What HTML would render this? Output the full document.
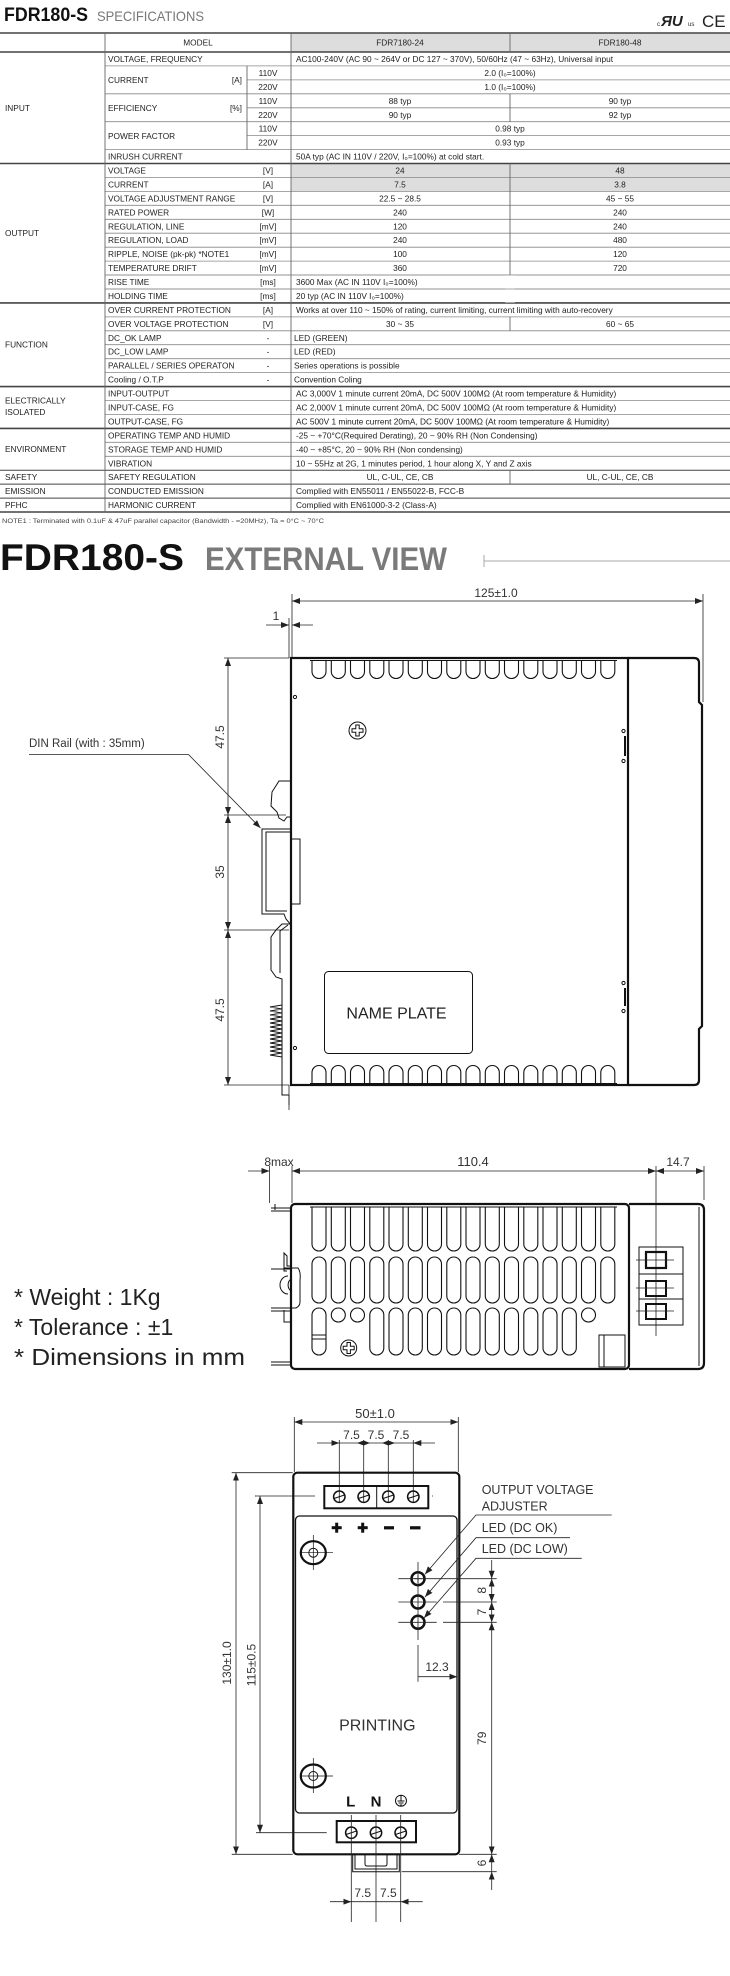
<!DOCTYPE html>
<html><head><meta charset="utf-8"><style>
html,body{margin:0;padding:0;background:#fff;}
svg{display:block;}
text{font-family:"Liberation Sans",sans-serif;}
.t{font-size:8.3px;fill:#222;}
.n{font-family:"Liberation Sans Narrow","Liberation Sans",sans-serif;}
.d{stroke:#222;stroke-width:0.8;fill:none;}
.k{stroke:#111;stroke-width:2.2;fill:none;}
.m{stroke:#111;stroke-width:1;fill:none;}
.lb{font-size:12px;fill:#333;}
</style></head><body>
<svg width="730" height="1976" viewBox="0 0 730 1976" xmlns="http://www.w3.org/2000/svg">
<defs>
<marker id="a" markerWidth="8" markerHeight="6" refX="8" refY="3" orient="auto-start-reverse" markerUnits="userSpaceOnUse"><path d="M0,0 L8,3 L0,6 z" fill="#222"/></marker>
<path id="st" d="M0,0 V11 A7,7 0 0 0 14,11 V0" stroke="#111" stroke-width="1.1" fill="none"/>
<path id="sb" d="M0,0 V-11 A7,7 0 0 1 14,-11 V0" stroke="#111" stroke-width="1.1" fill="none"/>
<path id="s1" d="M0,0 V37 A7,7 0 0 0 14,37 V0" stroke="#111" stroke-width="1.1" fill="none"/>
<rect id="s2" width="14" height="46" rx="7" stroke="#111" stroke-width="1.1" fill="none"/>
<rect id="s3" width="14" height="47" rx="7" stroke="#111" stroke-width="1.1" fill="none"/>
<circle id="sc" cx="7" cy="7" r="7" stroke="#111" stroke-width="1.1" fill="none"/>
</defs>

<!-- TITLE -->
<text x="4" y="21" class="n" font-size="19" font-weight="bold" fill="#111" textLength="84" lengthAdjust="spacingAndGlyphs">FDR180-S</text>
<text x="97" y="21" class="n" font-size="14" fill="#777" textLength="107" lengthAdjust="spacingAndGlyphs">SPECIFICATIONS</text>
<text x="657" y="26" font-size="6" fill="#222">c</text>
<text x="661" y="26" font-size="15" font-weight="bold" font-style="italic" fill="#222">ЯU</text>
<text x="688" y="26" font-size="6" fill="#222">us</text>
<text x="702" y="27" font-size="17" fill="#222">CE</text>

<!-- TABLE backgrounds -->
<rect x="291" y="33" width="439" height="19" fill="#ddd"/>
<rect x="291" y="163.5" width="439" height="27.9" fill="#ddd"/>

<!-- thin row lines -->
<g stroke="#888" stroke-width="0.8">
<line x1="247" y1="79.9" x2="730" y2="79.9"/>
<line x1="105" y1="93.8" x2="730" y2="93.8"/>
<line x1="247" y1="107.8" x2="730" y2="107.8"/>
<line x1="105" y1="121.7" x2="730" y2="121.7"/>
<line x1="247" y1="135.6" x2="730" y2="135.6"/>
<line x1="105" y1="149.6" x2="730" y2="149.6"/>
<line x1="105" y1="65.9" x2="730" y2="65.9"/>
<line x1="105" y1="177.5" x2="730" y2="177.5"/>
<line x1="105" y1="191.4" x2="730" y2="191.4"/>
<line x1="105" y1="205.3" x2="730" y2="205.3"/>
<line x1="105" y1="219.3" x2="730" y2="219.3"/>
<line x1="105" y1="233.2" x2="730" y2="233.2"/>
<line x1="105" y1="247.2" x2="730" y2="247.2"/>
<line x1="105" y1="261.1" x2="730" y2="261.1"/>
<line x1="105" y1="275.0" x2="730" y2="275.0"/>
<line x1="105" y1="289.0" x2="730" y2="289.0"/>
<line x1="105" y1="316.9" x2="730" y2="316.9"/>
<line x1="105" y1="330.8" x2="730" y2="330.8"/>
<line x1="105" y1="344.7" x2="730" y2="344.7"/>
<line x1="105" y1="358.7" x2="730" y2="358.7"/>
<line x1="105" y1="372.6" x2="730" y2="372.6"/>
<line x1="105" y1="400.5" x2="730" y2="400.5"/>
<line x1="105" y1="414.4" x2="730" y2="414.4"/>
<line x1="105" y1="442.3" x2="730" y2="442.3"/>
<line x1="105" y1="456.3" x2="730" y2="456.3"/>
</g>
<!-- group lines -->
<g stroke="#444" stroke-width="1.6">
<line x1="0" y1="33" x2="730" y2="33"/>
<line x1="0" y1="52" x2="730" y2="52"/>
<line x1="0" y1="163.5" x2="730" y2="163.5"/>
<line x1="0" y1="302.9" x2="730" y2="302.9"/>
<line x1="0" y1="386.6" x2="730" y2="386.6"/>
<line x1="0" y1="428.4" x2="730" y2="428.4"/>
<line x1="0" y1="512" x2="730" y2="512"/>
</g>
<g stroke="#444" stroke-width="1">
<line x1="0" y1="470.2" x2="730" y2="470.2"/>
<line x1="0" y1="484.1" x2="730" y2="484.1"/>
<line x1="0" y1="498.1" x2="730" y2="498.1"/>
</g>
<!-- vertical lines -->
<g stroke="#666" stroke-width="0.9">
<line x1="105" y1="33" x2="105" y2="512"/>
<line x1="291" y1="33" x2="291" y2="512"/>
<line x1="247" y1="65.9" x2="247" y2="149.6"/>
<line x1="510" y1="33" x2="510" y2="52"/>
<line x1="510" y1="93.8" x2="510" y2="121.7"/>
<line x1="510" y1="163.5" x2="510" y2="302.9" />
<line x1="510" y1="316.9" x2="510" y2="330.8"/>
<line x1="510" y1="470.2" x2="510" y2="484.1"/>
</g>
<rect x="505" y="275" width="10" height="27.5" fill="#fff"/>
<line x1="105" y1="275" x2="730" y2="275" stroke="#888" stroke-width="0.8"/>
<line x1="105" y1="289" x2="730" y2="289" stroke="#888" stroke-width="0.8"/>

<g class="t">
<text x="198" y="45.5" text-anchor="middle">MODEL</text>
<text x="400" y="45.5" text-anchor="middle">FDR7180-24</text>
<text x="620" y="45.5" text-anchor="middle">FDR180-48</text>

<text x="5" y="111">INPUT</text>
<text x="108" y="62">VOLTAGE, FREQUENCY</text>
<text x="296" y="62">AC100-240V (AC 90 ~ 264V or DC 127 ~ 370V), 50/60Hz (47 ~ 63Hz), Universal input</text>
<text x="108" y="83">CURRENT</text><text x="242" y="83" text-anchor="end">[A]</text>
<text x="268" y="75.9" text-anchor="middle">110V</text><text x="268" y="89.9" text-anchor="middle">220V</text>
<text x="510" y="75.9" text-anchor="middle">2.0 (I₀=100%)</text>
<text x="510" y="89.9" text-anchor="middle">1.0 (I₀=100%)</text>
<text x="108" y="111">EFFICIENCY</text><text x="242" y="111" text-anchor="end">[%]</text>
<text x="268" y="103.8" text-anchor="middle">110V</text><text x="268" y="117.8" text-anchor="middle">220V</text>
<text x="400" y="103.8" text-anchor="middle">88 typ</text><text x="620" y="103.8" text-anchor="middle">90 typ</text>
<text x="400" y="117.8" text-anchor="middle">90 typ</text><text x="620" y="117.8" text-anchor="middle">92 typ</text>
<text x="108" y="139">POWER FACTOR</text>
<text x="268" y="131.7" text-anchor="middle">110V</text><text x="268" y="145.6" text-anchor="middle">220V</text>
<text x="510" y="131.7" text-anchor="middle">0.98 typ</text><text x="510" y="145.6" text-anchor="middle">0.93 typ</text>
<text x="108" y="159.6">INRUSH CURRENT</text>
<text x="296" y="159.6">50A typ (AC IN 110V / 220V, I₀=100%) at cold start.</text>

<text x="5" y="236">OUTPUT</text>
<text x="108" y="173.5">VOLTAGE</text><text x="268" y="173.5" text-anchor="middle">[V]</text><text x="400" y="173.5" text-anchor="middle">24</text><text x="620" y="173.5" text-anchor="middle">48</text>
<text x="108" y="187.5">CURRENT</text><text x="268" y="187.5" text-anchor="middle">[A]</text><text x="400" y="187.5" text-anchor="middle">7.5</text><text x="620" y="187.5" text-anchor="middle">3.8</text>
<text x="108" y="201.4">VOLTAGE ADJUSTMENT RANGE</text><text x="268" y="201.4" text-anchor="middle">[V]</text><text x="400" y="201.4" text-anchor="middle">22.5 ~ 28.5</text><text x="620" y="201.4" text-anchor="middle">45 ~ 55</text>
<text x="108" y="215.3">RATED POWER</text><text x="268" y="215.3" text-anchor="middle">[W]</text><text x="400" y="215.3" text-anchor="middle">240</text><text x="620" y="215.3" text-anchor="middle">240</text>
<text x="108" y="229.3">REGULATION, LINE</text><text x="268" y="229.3" text-anchor="middle">[mV]</text><text x="400" y="229.3" text-anchor="middle">120</text><text x="620" y="229.3" text-anchor="middle">240</text>
<text x="108" y="243.2">REGULATION, LOAD</text><text x="268" y="243.2" text-anchor="middle">[mV]</text><text x="400" y="243.2" text-anchor="middle">240</text><text x="620" y="243.2" text-anchor="middle">480</text>
<text x="108" y="257.2">RIPPLE, NOISE (pk-pk) *NOTE1</text><text x="268" y="257.2" text-anchor="middle">[mV]</text><text x="400" y="257.2" text-anchor="middle">100</text><text x="620" y="257.2" text-anchor="middle">120</text>
<text x="108" y="271.1">TEMPERATURE DRIFT</text><text x="268" y="271.1" text-anchor="middle">[mV]</text><text x="400" y="271.1" text-anchor="middle">360</text><text x="620" y="271.1" text-anchor="middle">720</text>
<text x="108" y="285">RISE TIME</text><text x="268" y="285" text-anchor="middle">[ms]</text><text x="296" y="285">3600 Max (AC IN 110V I₀=100%)</text>
<text x="108" y="299">HOLDING TIME</text><text x="268" y="299" text-anchor="middle">[ms]</text><text x="296" y="299">20 typ (AC IN 110V I₀=100%)</text>

<text x="5" y="347.7">FUNCTION</text>
<text x="108" y="312.9">OVER CURRENT PROTECTION</text><text x="268" y="312.9" text-anchor="middle">[A]</text><text x="296" y="312.9">Works at over 110 ~ 150% of rating, current limiting, current limiting with auto-recovery</text>
<text x="108" y="326.9">OVER VOLTAGE PROTECTION</text><text x="268" y="326.9" text-anchor="middle">[V]</text><text x="400" y="326.9" text-anchor="middle">30 ~ 35</text><text x="620" y="326.9" text-anchor="middle">60 ~ 65</text>
<text x="108" y="340.8">DC_OK LAMP</text><text x="268" y="340.8" text-anchor="middle">-</text><text x="294" y="340.8">LED (GREEN)</text>
<text x="108" y="354.7">DC_LOW LAMP</text><text x="268" y="354.7" text-anchor="middle">-</text><text x="294" y="354.7">LED (RED)</text>
<text x="108" y="368.7">PARALLEL / SERIES OPERATON</text><text x="268" y="368.7" text-anchor="middle">-</text><text x="294" y="368.7">Series operations is possible</text>
<text x="108" y="382.6">Cooling / O.T.P</text><text x="268" y="382.6" text-anchor="middle">-</text><text x="294" y="382.6">Convention Coling</text>

<text x="5" y="403.5">ELECTRICALLY</text><text x="5" y="415">ISOLATED</text>
<text x="108" y="396.6">INPUT-OUTPUT</text><text x="296" y="396.6">AC 3,000V 1 minute current 20mA, DC 500V 100MΩ (At room temperature &amp; Humidity)</text>
<text x="108" y="410.5">INPUT-CASE, FG</text><text x="296" y="410.5">AC 2,000V 1 minute current 20mA, DC 500V 100MΩ (At room temperature &amp; Humidity)</text>
<text x="108" y="424.4">OUTPUT-CASE, FG</text><text x="296" y="424.4">AC 500V 1 minute current 20mA, DC 500V 100MΩ (At room temperature &amp; Humidity)</text>

<text x="5" y="452">ENVIRONMENT</text>
<text x="108" y="438.4">OPERATING TEMP AND HUMID</text><text x="296" y="438.4">-25 ~ +70°C(Required Derating), 20 ~ 90% RH (Non Condensing)</text>
<text x="108" y="452.3">STORAGE TEMP AND HUMID</text><text x="296" y="452.3">-40 ~ +85°C, 20 ~ 90% RH (Non condensing)</text>
<text x="108" y="466.3">VIBRATION</text><text x="296" y="466.3">10 ~ 55Hz at 2G, 1 minutes period, 1 hour along X, Y and Z axis</text>

<text x="5" y="480.2">SAFETY</text><text x="108" y="480.2">SAFETY REGULATION</text><text x="400" y="480.2" text-anchor="middle">UL, C-UL, CE, CB</text><text x="620" y="480.2" text-anchor="middle">UL, C-UL, CE, CB</text>
<text x="5" y="494.1">EMISSION</text><text x="108" y="494.1">CONDUCTED EMISSION</text><text x="296" y="494.1">Complied with EN55011 / EN55022-B, FCC-B</text>
<text x="5" y="508.1">PFHC</text><text x="108" y="508.1">HARMONIC CURRENT</text><text x="296" y="508.1">Complied with EN61000-3-2 (Class-A)</text>
</g>
<text x="2" y="523" font-size="6.2" fill="#444" textLength="322" lengthAdjust="spacingAndGlyphs">NOTE1 : Terminated with 0.1uF &amp; 47uF parallel capacitor (Bandwidth - =20MHz), Ta = 0°C ~ 70°C</text>

<!-- EXTERNAL VIEW TITLE -->
<text x="0" y="570" class="n" font-size="37" font-weight="bold" fill="#111" textLength="184" lengthAdjust="spacingAndGlyphs">FDR180-S</text>
<text x="205" y="570" class="n" font-size="32" font-weight="bold" fill="#7a7a7a" textLength="242" lengthAdjust="spacingAndGlyphs">EXTERNAL VIEW</text>
<line x1="484" y1="561" x2="730" y2="561" stroke="#aaa" stroke-width="1"/>
<line x1="484" y1="555" x2="484" y2="567" stroke="#aaa" stroke-width="1"/>

<!-- DRAWING 1 -->
<text x="496" y="597" class="lb" text-anchor="middle">125±1.0</text>
<line class="d" x1="292" y1="601" x2="703" y2="601" marker-start="url(#a)" marker-end="url(#a)"/>
<line class="d" x1="292" y1="594" x2="292" y2="658"/>
<line class="d" x1="703" y1="594" x2="703" y2="702"/>
<line class="d" x1="289" y1="618" x2="289" y2="658"/>
<text x="276" y="620" class="lb" text-anchor="middle">1</text>
<line class="d" x1="266" y1="625" x2="289" y2="625" marker-end="url(#a)"/>
<line class="d" x1="313" y1="625" x2="292" y2="625" marker-end="url(#a)"/>

<!-- box -->
<rect x="291" y="658" width="337" height="427" class="k"/>
<path class="k" d="M628,658 L694,658 Q699,658 699,663 L699,702 L702,705 L702,1026 L699,1029 L699,1080 Q699,1085 694,1085 L628,1085"/>
<line x1="310" y1="660.5" x2="617" y2="660.5" stroke="#111" stroke-width="1"/>
<line x1="310" y1="1083.5" x2="617" y2="1083.5" stroke="#111" stroke-width="1"/>
<g>
<use href="#st" x="312" y="660.5"/><use href="#st" x="331.3" y="660.5"/><use href="#st" x="350.5" y="660.5"/><use href="#st" x="369.8" y="660.5"/><use href="#st" x="389" y="660.5"/><use href="#st" x="408.3" y="660.5"/><use href="#st" x="427.5" y="660.5"/><use href="#st" x="446.8" y="660.5"/><use href="#st" x="466" y="660.5"/><use href="#st" x="485.3" y="660.5"/><use href="#st" x="504.5" y="660.5"/><use href="#st" x="523.8" y="660.5"/><use href="#st" x="543" y="660.5"/><use href="#st" x="562.3" y="660.5"/><use href="#st" x="581.5" y="660.5"/><use href="#st" x="600.8" y="660.5"/>
<use href="#sb" x="312" y="1083.5"/><use href="#sb" x="331.3" y="1083.5"/><use href="#sb" x="350.5" y="1083.5"/><use href="#sb" x="369.8" y="1083.5"/><use href="#sb" x="389" y="1083.5"/><use href="#sb" x="408.3" y="1083.5"/><use href="#sb" x="427.5" y="1083.5"/><use href="#sb" x="446.8" y="1083.5"/><use href="#sb" x="466" y="1083.5"/><use href="#sb" x="485.3" y="1083.5"/><use href="#sb" x="504.5" y="1083.5"/><use href="#sb" x="523.8" y="1083.5"/><use href="#sb" x="543" y="1083.5"/><use href="#sb" x="562.3" y="1083.5"/><use href="#sb" x="581.5" y="1083.5"/><use href="#sb" x="600.8" y="1083.5"/>
</g>
<circle cx="295" cy="697" r="1.6" class="m"/><circle cx="295" cy="1048" r="1.6" class="m"/>
<circle cx="623.5" cy="731" r="1.6" class="m"/><circle cx="623.5" cy="761" r="1.6" class="m"/>
<line x1="625" y1="736" x2="625" y2="756" stroke="#111" stroke-width="2"/>
<circle cx="623.5" cy="983" r="1.6" class="m"/><circle cx="623.5" cy="1011" r="1.6" class="m"/>
<line x1="625" y1="988" x2="625" y2="1006" stroke="#111" stroke-width="2"/>
<!-- screw -->
<circle cx="357.5" cy="730.5" r="8.5" class="m" stroke-width="1.3"/>
<path class="m" d="M355.8,725 h3.4 v3.8 h3.8 v3.4 h-3.8 v3.8 h-3.4 v-3.8 h-3.8 v-3.4 h3.8 z"/>
<!-- name plate -->
<rect x="324.5" y="971.5" width="148" height="82" rx="4" class="m"/>
<text x="396.5" y="1018.5" font-size="16" fill="#222" text-anchor="middle">NAME PLATE</text>
<!-- DIN clips -->
<path class="m" d="M291,781 L279,781 L272,792 L271,806 L277,812 L279,818 L284,821 L287,817 L291,817"/>
<path class="m" d="M291,829 L262,829 L262,914 L284,914 L286,919 L291,925"/>
<path class="m" d="M291,832 L266,832 L266,911 L287,911"/>
<rect x="291" y="839" width="9" height="65" class="m"/>
<path class="m" d="M291,924 L282,924 L276,930 L271,937 L271,970 L276,977 L282,979 L282,1095 L289,1095 L289,1105"/>
<path class="m" d="M288,925 L280,931 L280,973"/>
<path class="m" stroke-width="0.9" d="M282,1005 L270,1007 L282,1009 L270,1011 L282,1013 L270,1015 L282,1017 L270,1019 L282,1021 L270,1023 L282,1025 L270,1027 L282,1029 L270,1031 L282,1033 L270,1035 L282,1037 L270,1039 L282,1041 L270,1043 L282,1045 L270,1047 L282,1049 L270,1051 L282,1053 L270,1055 L282,1057"/>
<line class="d" x1="289" y1="1085" x2="289" y2="1110"/>
<!-- left dims -->
<line class="d" x1="228" y1="658" x2="228" y2="815" marker-start="url(#a)" marker-end="url(#a)"/>
<line class="d" x1="228" y1="815" x2="228" y2="930" marker-start="url(#a)" marker-end="url(#a)"/>
<line class="d" x1="228" y1="930" x2="228" y2="1085" marker-start="url(#a)" marker-end="url(#a)"/>
<line class="d" x1="224" y1="658" x2="289" y2="658"/>
<line class="d" x1="224" y1="815" x2="286" y2="815"/>
<line class="d" x1="224" y1="930" x2="289" y2="930"/>
<line class="d" x1="224" y1="1085" x2="289" y2="1085"/>
<text class="lb" transform="translate(224,737) rotate(-90)" text-anchor="middle">47.5</text>
<text class="lb" transform="translate(224,872) rotate(-90)" text-anchor="middle">35</text>
<text class="lb" transform="translate(224,1010) rotate(-90)" text-anchor="middle">47.5</text>
<text x="29" y="747" font-size="11.5" fill="#333">DIN Rail (with : 35mm)</text>
<path class="d" d="M29,754.5 L188.5,754.5 L260.5,828" marker-end="url(#a)"/>

<!-- DRAWING 2 -->
<text x="279" y="1166" class="lb" text-anchor="middle">8max</text>
<text x="473" y="1166" font-size="13" fill="#333" text-anchor="middle">110.4</text>
<text x="678" y="1166" class="lb" text-anchor="middle">14.7</text>
<line class="d" x1="248" y1="1171" x2="269.5" y2="1171" marker-end="url(#a)"/>
<line class="d" x1="292" y1="1171" x2="656" y2="1171" marker-start="url(#a)" marker-end="url(#a)"/>
<line class="d" x1="656" y1="1171" x2="704" y2="1171" marker-start="url(#a)" marker-end="url(#a)"/>
<line class="d" x1="269.5" y1="1166" x2="269.5" y2="1203"/>
<line class="d" x1="292" y1="1166" x2="292" y2="1203"/>
<line class="d" x1="704" y1="1166" x2="704" y2="1200"/>
<line class="d" x1="656" y1="1166" x2="656" y2="1336"/>
<rect x="291" y="1204" width="338" height="165" rx="4" class="k"/>
<path class="k" d="M629,1204 L698,1204 Q704,1204 704,1210 L704,1363 Q704,1369 698,1369 L629,1369"/>
<line x1="699" y1="1207" x2="699" y2="1366" stroke="#111" stroke-width="1"/>
<line x1="310" y1="1207" x2="617" y2="1207" stroke="#111" stroke-width="1"/>
<g>
<use href="#s1" x="312" y="1207"/><use href="#s1" x="331.3" y="1207"/><use href="#s1" x="350.5" y="1207"/><use href="#s1" x="369.8" y="1207"/><use href="#s1" x="389" y="1207"/><use href="#s1" x="408.3" y="1207"/><use href="#s1" x="427.5" y="1207"/><use href="#s1" x="446.8" y="1207"/><use href="#s1" x="466" y="1207"/><use href="#s1" x="485.3" y="1207"/><use href="#s1" x="504.5" y="1207"/><use href="#s1" x="523.8" y="1207"/><use href="#s1" x="543" y="1207"/><use href="#s1" x="562.3" y="1207"/><use href="#s1" x="581.5" y="1207"/><use href="#s1" x="600.8" y="1207"/>
<use href="#s2" x="312" y="1257"/><use href="#s2" x="331.3" y="1257"/><use href="#s2" x="350.5" y="1257"/><use href="#s2" x="369.8" y="1257"/><use href="#s2" x="389" y="1257"/><use href="#s2" x="408.3" y="1257"/><use href="#s2" x="427.5" y="1257"/><use href="#s2" x="446.8" y="1257"/><use href="#s2" x="466" y="1257"/><use href="#s2" x="485.3" y="1257"/><use href="#s2" x="504.5" y="1257"/><use href="#s2" x="523.8" y="1257"/><use href="#s2" x="543" y="1257"/><use href="#s2" x="562.3" y="1257"/><use href="#s2" x="581.5" y="1257"/><use href="#s2" x="600.8" y="1257"/>
<use href="#s3" x="312" y="1308"/><use href="#sc" x="331.3" y="1308"/><use href="#sc" x="350.5" y="1308"/><use href="#s3" x="369.8" y="1308"/><use href="#s3" x="389" y="1308"/><use href="#s3" x="408.3" y="1308"/><use href="#s3" x="427.5" y="1308"/><use href="#s3" x="446.8" y="1308"/><use href="#s3" x="466" y="1308"/><use href="#s3" x="485.3" y="1308"/><use href="#s3" x="504.5" y="1308"/><use href="#s3" x="523.8" y="1308"/><use href="#s3" x="543" y="1308"/><use href="#s3" x="562.3" y="1308"/><use href="#sc" x="581.5" y="1308"/>
</g>
<line x1="312" y1="1335" x2="326" y2="1335" class="m"/><line x1="312" y1="1339" x2="326" y2="1339" class="m"/>
<circle cx="348.7" cy="1348" r="8" class="m" stroke-width="1.3"/>
<path class="m" d="M347,1342.5 h3.4 v3.8 h3.8 v3.4 h-3.8 v3.8 h-3.4 v-3.8 h-3.8 v-3.4 h3.8 z"/>
<rect x="599" y="1335" width="26" height="32" class="m"/>
<line x1="604" y1="1335" x2="604" y2="1367" class="m"/>
<!-- terminals -->
<rect x="639" y="1247" width="44" height="78" class="m"/>
<line x1="639" y1="1274" x2="683" y2="1274" class="m"/><line x1="639" y1="1299" x2="683" y2="1299" class="m"/>
<rect x="646" y="1252" width="20" height="16" stroke="#111" stroke-width="2.2" fill="none"/>
<rect x="646" y="1281" width="20" height="15" stroke="#111" stroke-width="2" fill="none"/>
<rect x="646" y="1304" width="20" height="15" stroke="#111" stroke-width="2" fill="none"/>
<line class="d" x1="636" y1="1260" x2="674" y2="1260"/><line class="d" x1="636" y1="1288" x2="674" y2="1288"/><line class="d" x1="636" y1="1311" x2="674" y2="1311"/>
<!-- left clip side -->
<path class="m" d="M271,1208 h20 M271,1211 h20 M271,1308 h20 M271,1311 h20 M271,1362 h20 M271,1365 h20 M271,1269 h20"/>
<line x1="275" y1="1204" x2="275" y2="1210" class="m"/>
<path class="m" d="M291,1266 L287,1266 L287,1256 L284,1253 L284,1271 L287,1271 M284,1268 L298,1268 Q301,1272 300,1280 L300,1302 Q300,1306 296,1308 L284,1308"/>
<path class="m" d="M288,1276 A8,9 0 0 0 288,1294 M291,1279 A6,7 0 0 0 291,1291"/>
<path class="m" d="M284,1310 L284,1322 L291,1322"/>
<text x="14" y="1305" font-size="23" fill="#222">* Weight : 1Kg</text>
<text x="14" y="1335" font-size="23" fill="#222">* Tolerance : ±1</text>
<text x="14" y="1365" font-size="23" fill="#222" textLength="231" lengthAdjust="spacingAndGlyphs">* Dimensions in mm</text>

<!-- DRAWING 3 -->
<text x="375" y="1418" font-size="13" fill="#333" text-anchor="middle">50±1.0</text>
<line class="d" x1="294.3" y1="1422" x2="458.3" y2="1422" marker-start="url(#a)" marker-end="url(#a)"/>
<line class="d" x1="294.3" y1="1417" x2="294.3" y2="1472"/>
<line class="d" x1="458.3" y1="1417" x2="458.3" y2="1472"/>
<text x="351.5" y="1439" class="lb" text-anchor="middle">7.5</text>
<text x="376" y="1439" class="lb" text-anchor="middle">7.5</text>
<text x="401" y="1439" class="lb" text-anchor="middle">7.5</text>
<line class="d" x1="317" y1="1443" x2="339.3" y2="1443" marker-end="url(#a)"/>
<line class="d" x1="339.3" y1="1443" x2="413.3" y2="1443"/>
<line class="d" x1="435" y1="1443" x2="413.3" y2="1443" marker-end="url(#a)"/>
<g class="d"><line x1="339.3" y1="1440" x2="339.3" y2="1502"/><line x1="363.7" y1="1440" x2="363.7" y2="1502"/><line x1="388.3" y1="1440" x2="388.3" y2="1502"/><line x1="413.3" y1="1440" x2="413.3" y2="1502"/></g>
<path d="M357,1443 l6.7,-2.5 v5 z M370,1443 l-6.3,-2.5 v5 z M382,1443 l6.3,-2.5 v5z M395,1443 l-6.7,-2.5 v5z" fill="#222"/>
<rect x="293.3" y="1472.7" width="166" height="381.6" rx="4" class="k"/>
<rect x="295.5" y="1516" width="161.5" height="297" rx="4" stroke="#111" stroke-width="1.3" fill="none"/>
<rect x="324.3" y="1486" width="104" height="22.3" stroke="#111" stroke-width="2" fill="none"/>
<line x1="376.7" y1="1486" x2="376.7" y2="1508" class="m"/>
<g class="m">
<circle cx="339.3" cy="1496.7" r="5.7" stroke-width="1.5"/><circle cx="363.7" cy="1496.7" r="5.7" stroke-width="1.5"/><circle cx="388.3" cy="1496.7" r="5.7" stroke-width="1.5"/><circle cx="413.3" cy="1496.7" r="5.7" stroke-width="1.5"/>
<path d="M334,1498.5 L344.5,1495 M358.4,1498.5 L369,1495 M383,1498.5 L393.6,1495 M408,1498.5 L418.6,1495"/>
</g>
<line class="d" x1="255" y1="1496" x2="315" y2="1496"/>
<line class="d" x1="432" y1="1496" x2="433" y2="1496"/>
<g fill="#111">
<rect x="331.7" y="1526.2" width="10" height="3"/><rect x="335.2" y="1522.7" width="3" height="10"/>
<rect x="357.7" y="1526.2" width="10" height="3"/><rect x="361.2" y="1522.7" width="3" height="10"/>
<rect x="384" y="1526.2" width="10" height="3.2"/><rect x="410" y="1526.2" width="10.5" height="3.2"/>
</g>
<!-- mounting holes -->
<g class="m">
<ellipse cx="313.3" cy="1552.7" rx="12.5" ry="11.5" stroke-width="2.2"/><circle cx="313.3" cy="1552.7" r="4.5"/>
<line x1="300" y1="1552.7" x2="333" y2="1552.7" stroke-width="0.7"/><line x1="313.3" y1="1535" x2="313.3" y2="1570" stroke-width="0.7"/>
<ellipse cx="313.3" cy="1776" rx="12.5" ry="11.5" stroke-width="2.2"/><circle cx="313.3" cy="1776" r="4.5"/>
<line x1="300" y1="1776" x2="333" y2="1776" stroke-width="0.7"/><line x1="313.3" y1="1758" x2="313.3" y2="1793" stroke-width="0.7"/>
</g>
<!-- LEDs -->
<g>
<circle cx="418" cy="1578.7" r="6.5" fill="#fff" stroke="#111" stroke-width="2.5"/>
<circle cx="418" cy="1602" r="6.5" fill="#fff" stroke="#111" stroke-width="2.5"/>
<circle cx="418" cy="1622.3" r="6.5" fill="#fff" stroke="#111" stroke-width="2.5"/>
</g>
<g class="d" stroke-width="0.7">
<line x1="398.3" y1="1578.7" x2="496.7" y2="1578.7"/>
<line x1="398.3" y1="1602" x2="436.7" y2="1602"/><line x1="443" y1="1602" x2="496.7" y2="1602"/>
<line x1="398.3" y1="1622.3" x2="436.7" y2="1622.3"/><line x1="443" y1="1622.3" x2="496.7" y2="1622.3"/>
<line x1="418" y1="1562" x2="418" y2="1640"/>
<line x1="418" y1="1645" x2="418" y2="1681.7"/>
<line x1="414" y1="1578.7" x2="422" y2="1578.7"/><line x1="418" y1="1574.7" x2="418" y2="1582.7"/>
</g>
<text x="481.7" y="1494" font-size="12.5" fill="#333">OUTPUT VOLTAGE</text>
<text x="481.7" y="1510.5" font-size="12.5" fill="#333">ADJUSTER</text>
<path class="d" d="M611.7,1515 L476,1515 L425,1574.3" marker-end="url(#a)"/>
<text x="481.7" y="1532" font-size="12.5" fill="#333">LED (DC OK)</text>
<path class="d" d="M570,1537.7 L476,1537.7 L425,1597" marker-end="url(#a)"/>
<text x="481.7" y="1553" font-size="12.5" fill="#333">LED (DC LOW)</text>
<path class="d" d="M581.7,1558.3 L476,1558.3 L424,1618" marker-end="url(#a)"/>
<!-- right dims -->
<line class="d" x1="491.7" y1="1560" x2="491.7" y2="1578.7" marker-end="url(#a)"/>
<line class="d" x1="491.7" y1="1578.7" x2="491.7" y2="1602" marker-start="url(#a)" marker-end="url(#a)"/>
<line class="d" x1="491.7" y1="1602" x2="491.7" y2="1622.3" marker-start="url(#a)" marker-end="url(#a)"/>
<line class="d" x1="491.7" y1="1622.3" x2="491.7" y2="1854.3" marker-start="url(#a)" marker-end="url(#a)"/>
<line class="d" x1="491.7" y1="1854.3" x2="491.7" y2="1871.7" marker-start="url(#a)"/>
<line class="d" x1="491.7" y1="1871.7" x2="491.7" y2="1890" marker-start="url(#a)"/>
<line class="d" x1="459" y1="1854.3" x2="496.7" y2="1854.3"/>
<line class="d" x1="401.7" y1="1871.7" x2="496.7" y2="1871.7"/>
<text class="lb" transform="translate(486,1590.3) rotate(-90)" text-anchor="middle">8</text>
<text class="lb" transform="translate(486,1612) rotate(-90)" text-anchor="middle">7</text>
<text class="lb" transform="translate(486,1738.3) rotate(-90)" text-anchor="middle">79</text>
<text class="lb" transform="translate(486,1863) rotate(-90)" text-anchor="middle">6</text>
<text x="437" y="1671" class="lb" text-anchor="middle">12.3</text>
<line class="d" x1="418.3" y1="1676.7" x2="457.3" y2="1676.7" marker-end="url(#a)"/>
<text x="377.3" y="1730.5" font-size="16" fill="#333" text-anchor="middle">PRINTING</text>
<!-- left dims -->
<line class="d" x1="236" y1="1472.7" x2="236" y2="1854.3" marker-start="url(#a)" marker-end="url(#a)"/>
<line class="d" x1="231.7" y1="1472.7" x2="292.7" y2="1472.7"/>
<line class="d" x1="231.7" y1="1854.3" x2="292.7" y2="1854.3"/>
<line class="d" x1="260" y1="1496" x2="260" y2="1832.7" marker-start="url(#a)" marker-end="url(#a)"/>
<line class="d" x1="256" y1="1496" x2="255" y2="1496"/>
<line class="d" x1="256" y1="1832.7" x2="326.7" y2="1832.7"/>
<text class="lb" transform="translate(231,1663) rotate(-90)" text-anchor="middle">130±1.0</text>
<text class="lb" transform="translate(255.5,1665) rotate(-90)" text-anchor="middle">115±0.5</text>
<!-- L N earth -->
<text x="350.7" y="1806.5" font-size="15" font-weight="bold" fill="#111" text-anchor="middle">L</text>
<text x="376" y="1806.5" font-size="15" font-weight="bold" fill="#111" text-anchor="middle">N</text>
<circle cx="401" cy="1800.7" r="5.5" class="m"/>
<path class="m" d="M401,1795 v6 M397.5,1801 h7 M398.5,1803 h5 M399.8,1805 h2.4"/>
<!-- bottom terminal -->
<rect x="336.7" y="1821" width="79.3" height="21.3" stroke="#111" stroke-width="2" fill="none"/>
<g class="m">
<circle cx="351.3" cy="1832.7" r="5.7" stroke-width="1.5"/><circle cx="376" cy="1832.7" r="5.7" stroke-width="1.5"/><circle cx="400.7" cy="1832.7" r="5.7" stroke-width="1.5"/>
<path d="M346,1834.5 L356.6,1831 M370.7,1834.5 L381.3,1831 M395.4,1834.5 L406,1831"/>
</g>
<g class="d" stroke-width="0.7">
<line x1="351.3" y1="1815" x2="351.3" y2="1922"/><line x1="376" y1="1815" x2="376" y2="1922"/><line x1="400.7" y1="1815" x2="400.7" y2="1922"/>
</g>
<path class="m" d="M352.7,1854.3 V1871.7 H399.3 V1854.3 M355,1854.3 V1869 H397 V1854.3"/>
<path class="m" d="M365,1854.3 V1864 Q365,1866 367,1866 H385 Q387,1866 387,1864 V1854.3"/>
<text x="362.7" y="1897" class="lb" text-anchor="middle">7.5</text>
<text x="388.3" y="1897" class="lb" text-anchor="middle">7.5</text>
<line class="d" x1="330" y1="1901.7" x2="351.3" y2="1901.7" marker-end="url(#a)"/>
<line class="d" x1="351.3" y1="1901.7" x2="400.7" y2="1901.7"/>
<line class="d" x1="422.7" y1="1901.7" x2="400.7" y2="1901.7" marker-end="url(#a)"/>
</svg>
</body></html>
